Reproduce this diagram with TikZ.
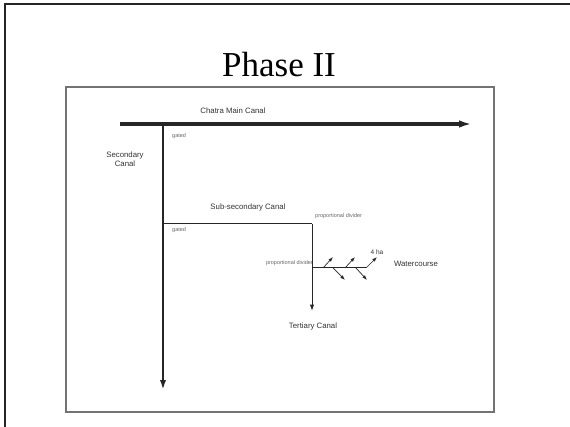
\documentclass[tikz,border=0pt]{standalone}
\usepackage{fontspec}
\setmainfont{Liberation Serif}
\newfontfamily\labelfont{Liberation Sans}
\usepackage{tikz}
\usetikzlibrary{arrows.meta}
\tikzstyle{canal} = [draw=black!85, line width=2.2pt]
\tikzstyle{maincanal} = [draw=black!85, line width=3.2pt]
\tikzstyle{ditch} = [draw=black!85, line width=1pt]
\tikzstyle{lbl} = [font=\labelfont\fontsize{7.8}{8.8}\selectfont, text=black!80, inner sep=0pt, align=center]
\tikzstyle{tiny} = [font=\labelfont\fontsize{5.5}{6.5}\selectfont, text=black!60, inner sep=0pt]
\tikzset{>={Latex[length=2mm,width=1.5mm]}}

\begin{document}
\begin{tikzpicture}[x=1pt,y=-1pt]
    \useasboundingbox (0,0) rectangle (570,427);
    %frame
    \fill[white] (0,0) rectangle (570,427);
    \draw[black!85, line width=2pt] (5,427) -- (5,4) -- (570,4);
    \node[font=\fontsize{35}{38}\selectfont, inner sep=0pt] (title) at (279,65) {Phase II};
    \draw[black!55, line width=1.2pt] (66,87) rectangle (494,412);
    %junctions
    \coordinate (mainstart) at (120,124);
    \coordinate (mainend) at (472,124);
    \coordinate (secstart) at (163,124);
    \coordinate (secend) at (163,390);
    \coordinate (subsec) at (163,224);
    \coordinate (divider) at (312,224);
    \coordinate (tertend) at (312,311);
    \coordinate (wcstart) at (312,268);
    \coordinate (wcend) at (366,268);
    %canals
    \draw[maincanal, -{Latex[length=4.5mm,width=2.6mm]}] (mainstart) -- (mainend);
    \draw[canal, -{Latex[length=3.5mm,width=2.2mm]}] (secstart) -- (secend);
    \draw[ditch] (subsec) -- (divider);
    \draw[ditch, -{Latex[length=2.2mm,width=1.5mm]}] (divider) -- (tertend);
    \draw[ditch] (wcstart) -- (wcend);
    %outlets
    \foreach \sx/\ex/\ey in {323/333/257, 345/355/257, 366/377/257, 333/345/280, 356/367/280}
        \draw[ditch, line width=0.7pt, -{Latex[length=1.7mm,width=1.2mm]}] (\sx,268) -- (\ex,\ey);
    %labels
    \node[lbl] (mainlbl) at (233,111) {Chatra Main Canal};
    \node[lbl] (seclbl) at (125,159) {Secondary\\Canal};
    \node[lbl] (sublbl) at (248,207) {Sub-secondary Canal};
    \node[lbl] (tertlbl) at (313,326) {Tertiary Canal};
    \node[lbl] (wclbl) at (416,264) {Watercourse};
    \node[lbl, font=\labelfont\fontsize{6.5}{7.5}\selectfont] (halbl) at (377,252) {4 ha};
    \node[tiny, anchor=west] (gatedtop) at (172,136) {gated};
    \node[tiny, anchor=west] (gatedsub) at (172,230) {gated};
    \node[tiny, anchor=west] (divtop) at (315,216) {proportional divider};
    \node[tiny, anchor=east] (divleft) at (313,263) {proportional divider};
\end{tikzpicture}
\end{document}
